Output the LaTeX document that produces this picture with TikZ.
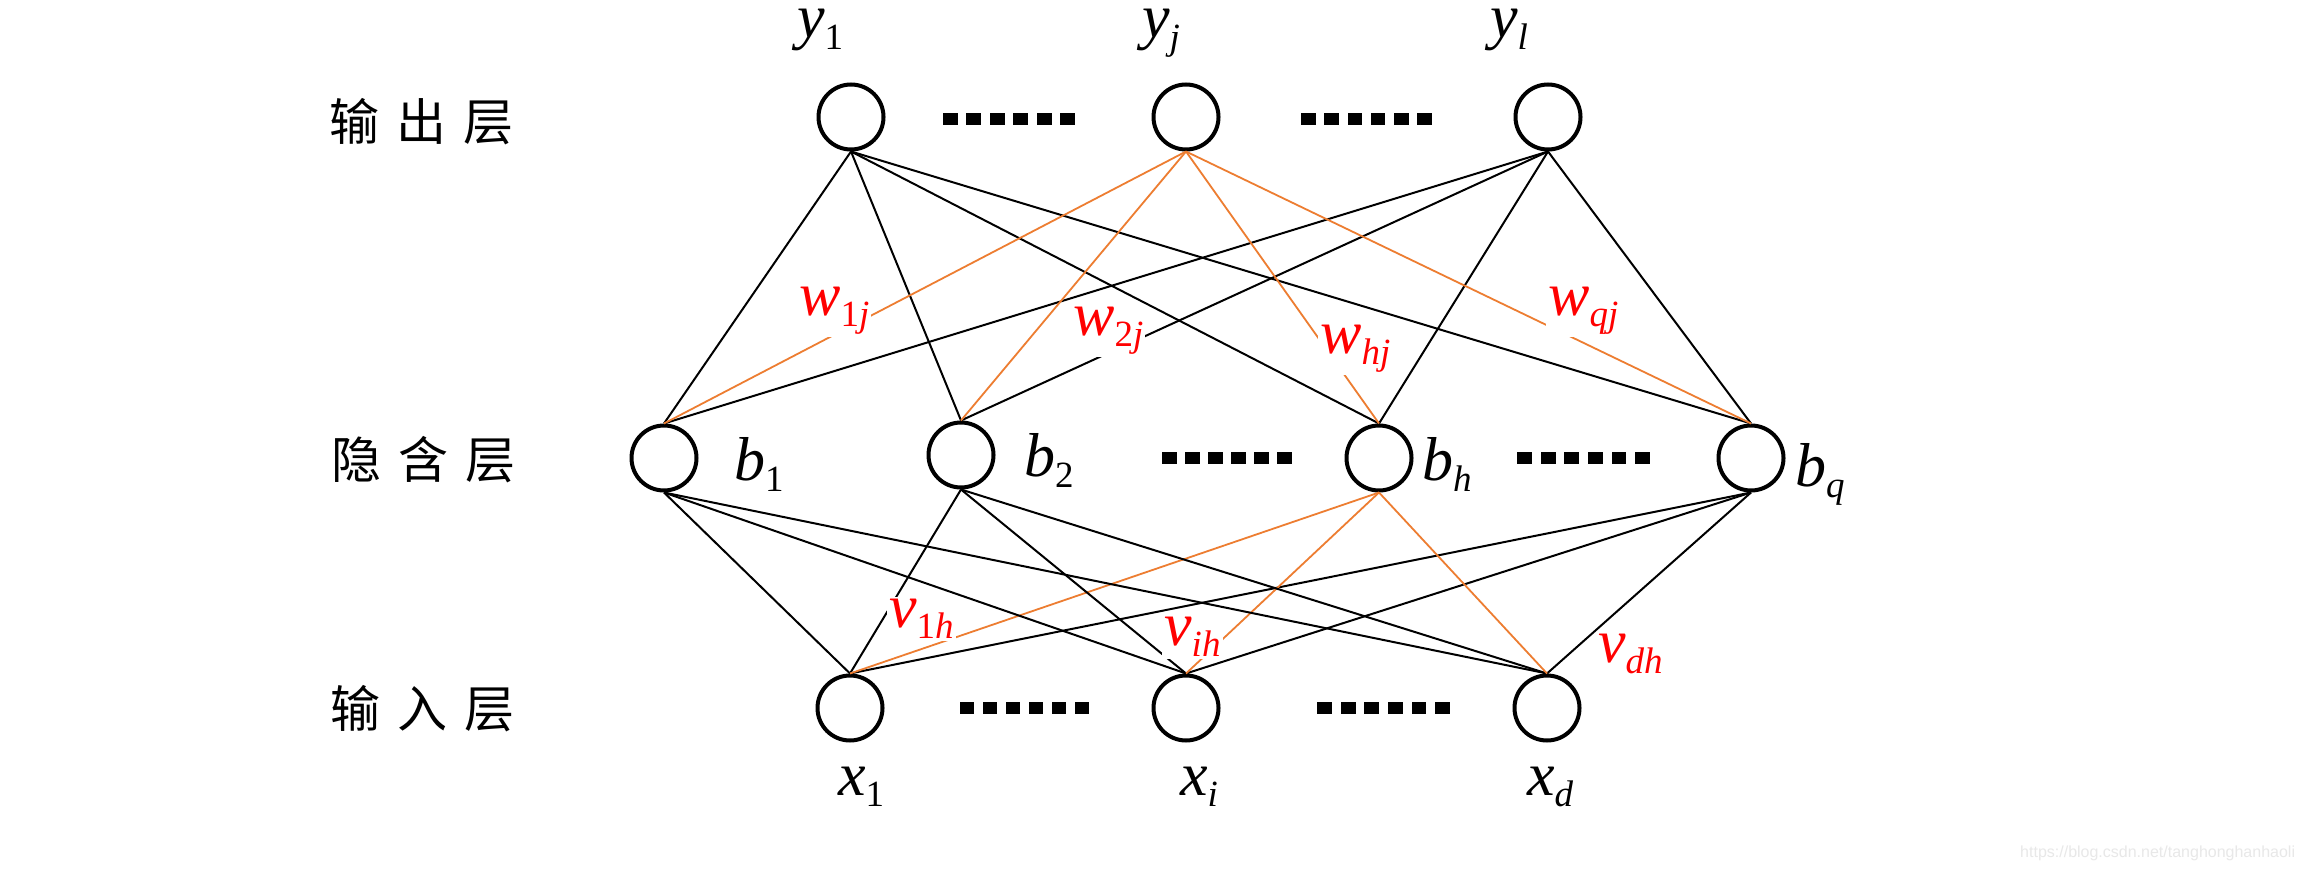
\documentclass[tikz,border=0pt]{standalone}
\usepackage{fontspec}
\setmainfont{Liberation Serif}
\newfontfamily\tms{Liberation Serif}
\newfontfamily\cjk{Noto Sans CJK SC}
\newfontfamily\wmfont{Liberation Sans}
\definecolor{lnorange}{RGB}{237,125,49}
\newcommand{\lab}[2]{{\itshape #1}\raisebox{-0.19em}{\fontsize{37}{40}\selectfont #2}}
\begin{document}
\begin{tikzpicture}[x=1pt,y=-1pt,
  neuron/.style={circle,draw,line width=4pt,minimum size=65pt,inner sep=0pt,fill=white},
  conn/.style={line width=2pt},
  wconn/.style={line width=1.8pt,draw=lnorange},
  lbl/.style={anchor=base west,inner sep=0pt,font=\tms\fontsize{62}{70}\selectfont},
  wlbl/.style={lbl,text=red,fill=white,inner sep=2pt},
  layer/.style={font=\cjk\fontsize{50}{56}\selectfont,inner sep=0pt},
  wm/.style={anchor=base west,inner sep=0pt,text=black!9,font=\wmfont\fontsize{16}{18}\selectfont}]
\useasboundingbox[fill=white] (0,0) rectangle (2302,872);
% neurons
\node[neuron] (y1) at (851,117) {};
\node[neuron] (yj) at (1186,117) {};
\node[neuron] (yl) at (1548,117) {};
\node[neuron] (b1) at (664,458) {};
\node[neuron] (b2) at (961,455) {};
\node[neuron] (bh) at (1379,458) {};
\node[neuron] (bq) at (1751,458) {};
\node[neuron] (x1) at (850,708) {};
\node[neuron] (xi) at (1186,708) {};
\node[neuron] (xd) at (1547,708) {};
% connections
\foreach \o in {y1,yl} {\foreach \h in {b1,b2,bh,bq} {\draw[conn] (\o.south) -- (\h.north);}}
\foreach \h in {b1,b2,bh,bq} {\draw[wconn] (yj.south) -- (\h.north);}
\foreach \i in {x1,xi,xd} {
  \foreach \h in {b1,b2,bq} {\draw[conn] (\h.south) -- (\i.north);}
  \draw[wconn] (bh.south) -- (\i.north);
}
% dots
\foreach \a/\b/\c in {943/1075/113, 1301/1432/113, 1162/1292/452, 1517/1650/452, 960/1089/702, 1317/1450/702} {
  \pgfmathsetmacro\p{(\b-\a)/5.63}
  \foreach \k in {0,...,5} {\fill (\a+\k*\p,\c) rectangle ++(0.63*\p,12);}
}
% labels
\node[lbl] (ly1) at (797,38) {\lab{y}{1}};
\node[lbl] (lyj) at (1142,38) {\lab{y}{\itshape j}};
\node[lbl] (lyl) at (1490,38) {\lab{y}{\itshape l}};
\node[lbl] (lb1) at (734,480) {\lab{b}{1}};
\node[lbl] (lb2) at (1024,476) {\lab{b}{2}};
\node[lbl] (lbh) at (1422,480) {\lab{b}{\itshape h}};
\node[lbl] (lbq) at (1795,486) {\lab{b}{\itshape q}};
\node[lbl] (lx1) at (838,795) {\lab{x}{1}};
\node[lbl] (lxi) at (1180,795) {\lab{x}{\itshape i}};
\node[lbl] (lxd) at (1527,795) {\lab{x}{\itshape d}};
\node[wlbl] (w1j) at (797,315) {\lab{w}{1\itshape j}};
\node[wlbl] (w2j) at (1071,335) {\lab{w}{2\itshape j}};
\node[wlbl] (whj) at (1318,353) {\lab{w}{\itshape hj}};
\node[wlbl] (wqj) at (1546,315) {\lab{w}{\itshape qj}};
\node[wlbl] (v1h) at (887,627) {\lab{v}{1\itshape h}};
\node[wlbl] (vih) at (1162,645) {\lab{v}{\itshape ih}};
\node[wlbl] (vdh) at (1596,662) {\lab{v}{\itshape dh}};
% layer names
\node[layer] (lout) at (421,122) {输\hspace{17pt}出\hspace{17pt}层};
\node[layer] (lhid) at (423,460) {隐\hspace{17pt}含\hspace{17pt}层};
\node[layer] (lin) at (422,709) {输\hspace{17pt}入\hspace{17pt}层};
% watermark
\node[wm] (mark) at (2020,857) {https://blog.csdn.net/tanghonghanhaoli};
\end{tikzpicture}
\end{document}
